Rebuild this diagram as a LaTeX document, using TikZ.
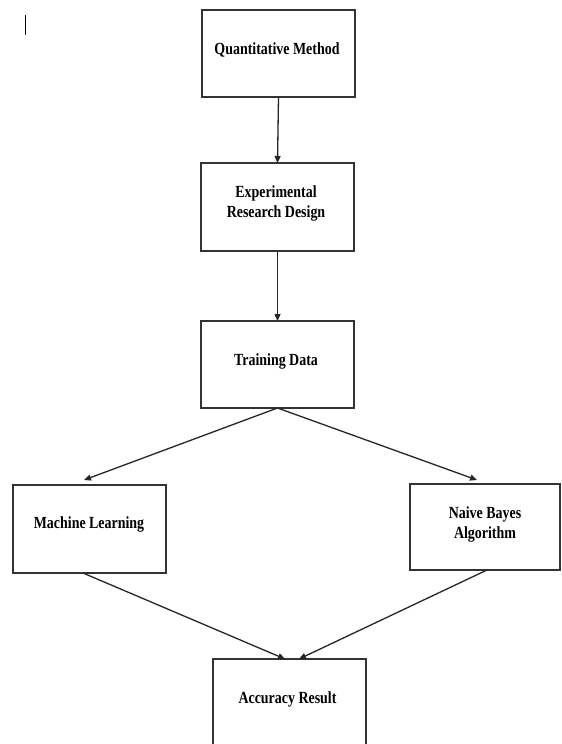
\documentclass[tikz,border=0pt]{standalone}
\usepackage{fontspec}
\setmainfont{Liberation Serif}[FakeStretch=0.82]
\usetikzlibrary{arrows.meta,calc}
\begin{document}
\begin{tikzpicture}[x=1pt,y=-1pt,
  box/.style={draw=black!80, line width=1.2pt, inner sep=0pt, outer sep=0pt},
  lbl/.style={font=\fontsize{17}{20}\selectfont\bfseries, align=center, inner sep=0pt, anchor=base},
  conn/.style={draw=black!85, line width=1.3pt, -{Triangle[length=7pt,width=6pt]}}]
\clip (0,0) rectangle (562,744);
\fill[white] (0,0) rectangle (562,744);
% boxes
\node[box, minimum width=153pt, minimum height=87pt] (b1) at (278.5,53.5) {};
\node[box, minimum width=153pt, minimum height=88pt] (b2) at (277.5,207) {};
\node[box, minimum width=153pt, minimum height=87pt] (b3) at (277.5,364.5) {};
\node[box, minimum width=153pt, minimum height=88pt] (ml) at (89.5,529) {};
\node[box, minimum width=150pt, minimum height=86pt] (nb) at (485,527) {};
\node[box, minimum width=153pt, minimum height=92pt] (acc) at (289.5,705) {};
% labels
\node[lbl] (t1) at (277,54) {Quantitative Method};
\node[lbl] (t2) at (276,217) {Experimental\\Research Design};
\node[lbl] (t3) at (276,365) {Training Data};
\node[lbl] (t4) at (89,528) {Machine Learning};
\node[lbl] (t5) at (485,538) {Naive Bayes\\Algorithm};
\node[lbl] (t6) at (287.5,703) {Accuracy Result};
% stray mark
\draw[line width=1pt] (25,15) -- (25,35);
% connectors
\draw[conn] (b1.south) -- (b2.north);
\draw[conn] (b2.south) -- (b3.north);
\draw[conn] (b3.south) -- ($(ml.north)+(-5.5,-5)$);
\draw[conn] (b3.south) -- ($(nb.north)+(-8,-4)$);
\draw[conn] ($(ml.south)+(-6.5,0)$) -- ($(acc.north)+(-4.5,0)$);
\draw[conn] ($(nb.south)+(2,0)$) -- ($(acc.north)+(9.5,0)$);
\end{tikzpicture}
\end{document}
